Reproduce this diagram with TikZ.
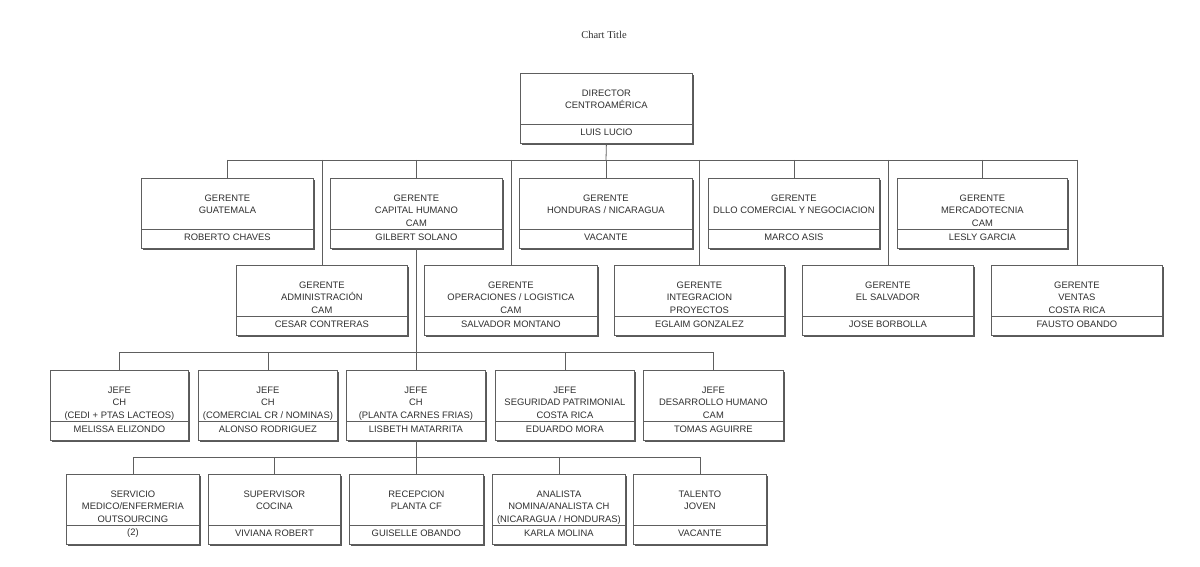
\documentclass[tikz,border=0pt]{standalone}
\usepackage{fontspec}
\setmainfont{Liberation Sans}
\newfontfamily\titlefont{Liberation Serif}
\usetikzlibrary{shadows}
\definecolor{ink}{HTML}{303030}
\definecolor{wire}{HTML}{5E5E5E}
\tikzset{
  boxst/.style={draw=wire, line width=0.8pt, fill=white, rectangle, inner sep=0pt,
    minimum height=70pt, anchor=north west,
    drop shadow={shadow xshift=1.6pt, shadow yshift=-1.6pt, fill=black!65, opacity=1}},
  divst/.style={draw=wire, line width=0.7pt},
  txt/.style={text=ink, font=\fontsize{9.4}{12.5}\selectfont, align=center, inner sep=0pt},
  wirest/.style={draw=wire, line width=0.8pt}
}
\newcommand\obox[6]{%
  \node[boxst, minimum width={(#4-#2)*1pt}] (#1) at (#2,#3) {};
  \draw[divst] ([yshift=19pt]#1.south west) -- ([yshift=19pt]#1.south east);
  \node[txt, anchor=north] (#1t) at ([yshift=-16.6pt]#1.north) {#5};
  \node[txt] (#1n) at ([yshift=12pt]#1.south) {#6};
}
\begin{document}
\begin{tikzpicture}[x=1pt,y=-1pt]
\useasboundingbox[fill=white] (0,0) rectangle (1200,567);
\node[font=\titlefont\fontsize{10.5}{12}\selectfont, text=ink] (title) at (604,35) {Chart Title};

% bus coordinates
\coordinate (busA) at (606,160);
\coordinate (busB) at (415,352);
\coordinate (busC) at (416,457);

\obox{dir}{520}{73}{692}{DIRECTOR\\CENTROAMÉRICA}{LUIS LUCIO}

\obox{guat}{141}{178}{313}{GERENTE\\GUATEMALA}{ROBERTO CHAVES}
\obox{caph}{330}{178}{502}{GERENTE\\CAPITAL HUMANO\\CAM}{GILBERT SOLANO}
\obox{hond}{519}{178}{692}{GERENTE\\HONDURAS / NICARAGUA}{VACANTE}
\obox{dllo}{708}{178}{879}{GERENTE\\DLLO COMERCIAL Y NEGOCIACION}{MARCO ASIS}
\obox{merc}{897}{178}{1067}{GERENTE\\MERCADOTECNIA\\CAM}{LESLY GARCIA}

\obox{adm}{236}{265}{407}{GERENTE\\ADMINISTRACIÓN\\CAM}{CESAR CONTRERAS}
\obox{oper}{424}{265}{597}{GERENTE\\OPERACIONES / LOGISTICA\\CAM}{SALVADOR MONTANO}
\obox{integ}{614}{265}{784}{GERENTE\\INTEGRACION\\PROYECTOS}{EGLAIM GONZALEZ}
\obox{salv}{802}{265}{973}{GERENTE\\EL SALVADOR}{JOSE BORBOLLA}
\obox{vent}{991}{265}{1162}{GERENTE\\VENTAS\\COSTA RICA}{FAUSTO OBANDO}

\obox{mel}{50}{370}{188}{JEFE\\CH\\(CEDI + PTAS LACTEOS)}{MELISSA ELIZONDO}
\obox{alo}{198}{370}{337}{JEFE\\CH\\(COMERCIAL CR / NOMINAS)}{ALONSO RODRIGUEZ}
\obox{lis}{346}{370}{485}{JEFE\\CH\\(PLANTA CARNES FRIAS)}{LISBETH MATARRITA}
\obox{edu}{495}{370}{634}{JEFE\\SEGURIDAD PATRIMONIAL\\COSTA RICA}{EDUARDO MORA}
\obox{tom}{643}{370}{783}{JEFE\\DESARROLLO HUMANO\\CAM}{TOMAS AGUIRRE}

\obox{serv}{66}{474}{199}{SERVICIO\\MEDICO/ENFERMERIA\\OUTSOURCING}{(2)}
\obox{sup}{208}{474}{340}{SUPERVISOR\\COCINA}{VIVIANA ROBERT}
\obox{rec}{349}{474}{483}{RECEPCION\\PLANTA CF}{GUISELLE OBANDO}
\obox{ana}{492}{474}{625}{ANALISTA\\NOMINA/ANALISTA CH\\(NICARAGUA / HONDURAS)}{KARLA MOLINA}
\obox{tal}{633}{474}{766}{TALENTO\\JOVEN}{VACANTE}

% level 1 -> 2/3
\draw[wirest] (dir.south) -- (busA);
\draw[wirest] (guat.north |- busA) -- (vent.north |- busA);
\foreach \c in {guat,caph,hond,dllo,merc,adm,oper,integ,salv,vent}
  \draw[wirest] (\c.north |- busA) -- (\c.north);
% capital humano -> jefes
\draw[wirest] (caph.south) -- (caph.south |- busB);
\draw[wirest] (mel.north |- busB) -- (tom.north |- busB);
\foreach \c in {mel,alo,lis,edu,tom}
  \draw[wirest] (\c.north |- busB) -- (\c.north);
% lisbeth -> row 5
\draw[wirest] (lis.south) -- (lis.south |- busC);
\draw[wirest] (serv.north |- busC) -- (tal.north |- busC);
\foreach \c in {serv,sup,rec,ana,tal}
  \draw[wirest] (\c.north |- busC) -- (\c.north);
\end{tikzpicture}
\end{document}
